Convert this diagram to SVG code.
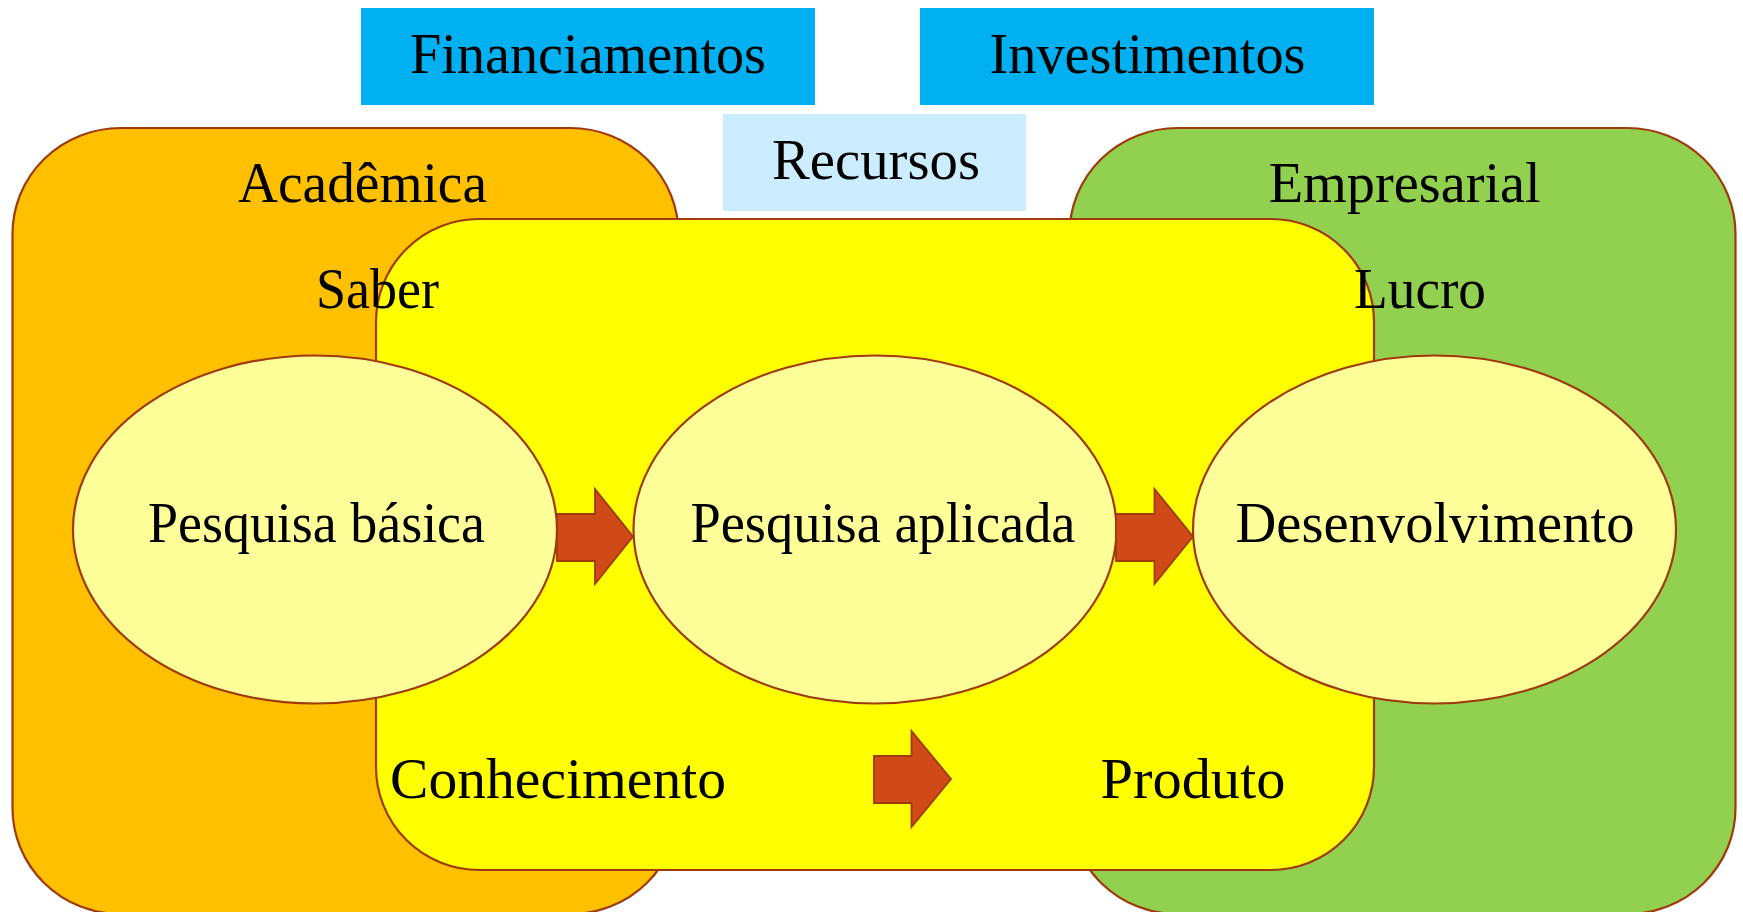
<svg xmlns="http://www.w3.org/2000/svg" width="1743" height="912" viewBox="0 0 1743 912">
<style>
.t{font-family:"Liberation Serif","Times New Roman",serif;font-size:56px;fill:#000;text-anchor:middle}
.zone{stroke:#9E3A0C;stroke-width:2.2}
.ell{fill:#FFFF99;stroke:#9E3A0C;stroke-width:2.2}
.arr{fill:#D04A18;stroke:#9E3A0C;stroke-width:1.8;stroke-linejoin:miter}
</style>
<rect width="1743" height="912" fill="#FFFFFF"/>
<g id="financiamentos">
<rect x="361" y="8" width="454" height="97" fill="#00B0F0"/>
<text class="t" x="588" y="73" textLength="356" lengthAdjust="spacingAndGlyphs">Financiamentos</text>
</g>
<g id="investimentos">
<rect x="920" y="8" width="454" height="97" fill="#00B0F0"/>
<text class="t" x="1147.5" y="73" textLength="316" lengthAdjust="spacingAndGlyphs">Investimentos</text>
</g>
<g id="recursos">
<rect x="723" y="114" width="303" height="97" fill="#CCECFF"/>
<text class="t" x="876" y="179" textLength="208" lengthAdjust="spacingAndGlyphs">Recursos</text>
</g>
<g id="academica">
<rect class="zone" x="12.5" y="128" width="666" height="786" rx="108" ry="106" fill="#FFC000"/>
</g>
<g id="empresarial">
<rect class="zone" x="1069.5" y="128" width="666" height="786" rx="108" ry="106" fill="#92D050"/>
</g>
<g id="labels-top">
<text class="t" x="362.5" y="202" textLength="249" lengthAdjust="spacingAndGlyphs">Acadêmica</text>
<text class="t" x="1404.7" y="202" textLength="272" lengthAdjust="spacingAndGlyphs">Empresarial</text>
</g>
<g id="centro">
<rect class="zone" x="376" y="219" width="998" height="651" rx="103" ry="103" fill="#FFFF00"/>
</g>
<g id="saber">
<text class="t" x="377.5" y="308" textLength="123" lengthAdjust="spacingAndGlyphs">Saber</text>
</g>
<g id="lucro">
<text class="t" x="1420" y="308" textLength="132" lengthAdjust="spacingAndGlyphs">Lucro</text>
</g>
<g id="pesquisa-basica">
<ellipse class="ell" cx="315" cy="529.5" rx="242" ry="174"/>
<text class="t" x="316.5" y="542" textLength="337" lengthAdjust="spacingAndGlyphs">Pesquisa básica</text>
</g>
<g id="pesquisa-aplicada">
<ellipse class="ell" cx="875" cy="529.5" rx="241.5" ry="174"/>
<text class="t" x="883" y="542" textLength="385" lengthAdjust="spacingAndGlyphs">Pesquisa aplicada</text>
</g>
<g id="desenvolvimento">
<ellipse class="ell" cx="1434.5" cy="529.5" rx="241.5" ry="174"/>
<text class="t" x="1435" y="542" textLength="399" lengthAdjust="spacingAndGlyphs">Desenvolvimento</text>
</g>
<g id="conhecimento">
<text class="t" x="558" y="798" textLength="336" lengthAdjust="spacingAndGlyphs">Conhecimento</text>
</g>
<g id="produto">
<text class="t" x="1193" y="798" textLength="185" lengthAdjust="spacingAndGlyphs">Produto</text>
</g>
<g id="connectors">
<polygon class="arr" points="557,514 595,514 595,489 633,536.5 595,584 595,561 557,561"/>
<polygon class="arr" points="1116,514 1154.5,514 1154.5,489 1193,536.5 1154.5,584 1154.5,561 1116,561"/>
<polygon class="arr" points="874,756 911.5,756 911.5,731 951,779 911.5,827 911.5,803 874,803"/>
</g>
</svg>
